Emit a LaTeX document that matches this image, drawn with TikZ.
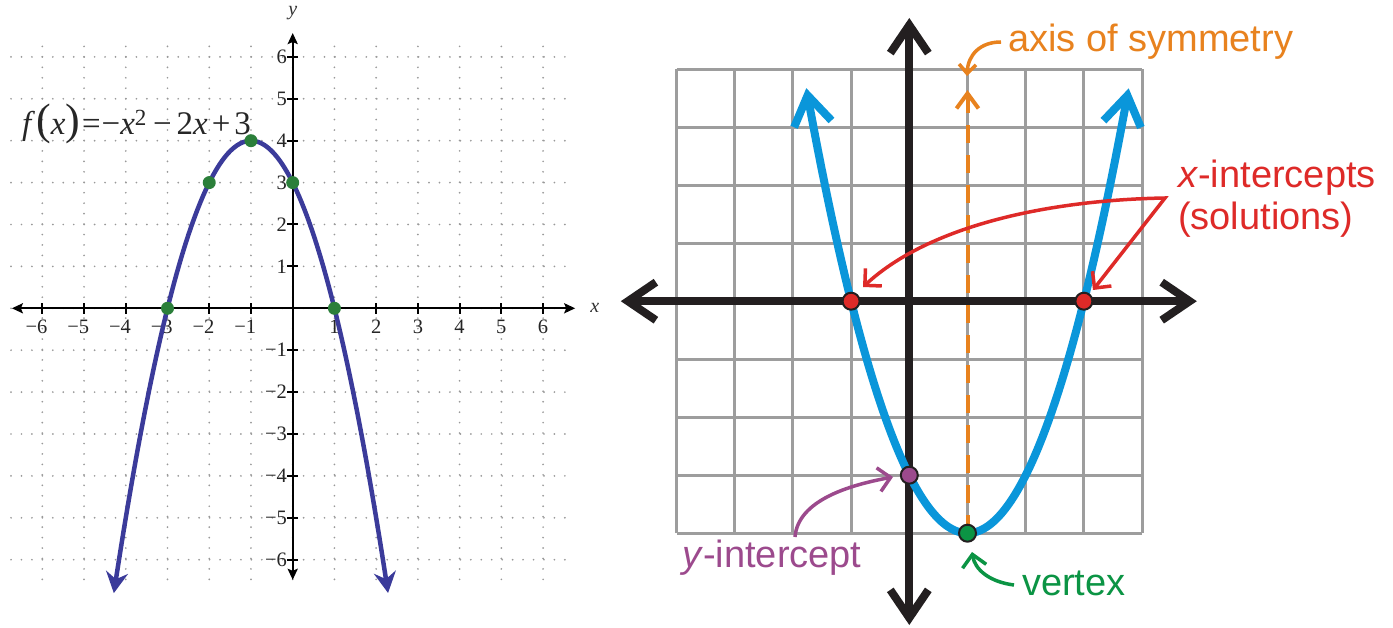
\documentclass[tikz,border=0pt]{standalone}
\usepackage{fontspec}
\setmainfont{Liberation Serif}
\newfontfamily\sansf{Liberation Sans}
\usetikzlibrary{arrows.meta}
\definecolor{lblue}{HTML}{3B3B9A}
\definecolor{lgreen}{HTML}{2B7F3A}
\definecolor{dotgray}{HTML}{999999}
\definecolor{rgray}{HTML}{9D9D9D}
\definecolor{rblack}{HTML}{231F20}
\definecolor{rblue}{HTML}{0A96DA}
\definecolor{rorange}{HTML}{E8821E}
\definecolor{rred}{HTML}{DE2A28}
\definecolor{rpurple}{HTML}{9C4A8D}
\definecolor{rgreen}{HTML}{0B9444}
\tikzset{
 BlackChev/.tip={Straight Barb[length=28pt,width=38pt]},
 BlueChev/.tip={Straight Barb[length=29pt,width=38pt]},
 OrChev/.tip={Straight Barb[length=15pt,width=22pt]},
 ThinChev/.tip={Straight Barb[length=12pt,width=24pt]},
 SmallChev/.tip={Straight Barb[length=9pt,width=17pt]},
 LStealth/.tip={Stealth[length=11pt,width=10pt,inset=2pt]},
 CStealth/.tip={Stealth[length=21pt,width=22pt,inset=7pt]},
 dotgrid/.style={dotgray, line width=1.9pt, line cap=round, dash pattern=on 0pt off 10.45pt},
 laxis/.style={black, line width=2.2pt},
 ltick/.style={black, line width=2pt},
 lcurve/.style={lblue, line width=4.5pt},
 ldot/.style={circle, fill=lgreen, minimum size=13pt, inner sep=0pt},
 lnum/.style={font=\fontsize{20.5}{22}\selectfont, inner sep=0pt, text=black!85},
 lvar/.style={font=\fontsize{20}{22}\selectfont\itshape, inner sep=0pt, text=black!80},
 rgrid/.style={rgray, line width=3pt},
 raxis/.style={rblack, line width=8pt},
 rcurve/.style={rblue, line width=8pt},
 rsym/.style={rorange, line width=4pt, dash pattern=on 18pt off 12pt},
 rdot/.style={circle, draw=rblack, line width=2pt, minimum size=17pt, inner sep=0pt},
 rlabel/.style={font=\sansf\fontsize{38}{42}\selectfont, anchor=base west, inner sep=0pt},
 callout/.style={line width=3.5pt},
}
\begin{document}
\begin{tikzpicture}[x=1pt,y=-1pt]
\useasboundingbox[fill=white] (0,0) rectangle (1393,628);

% ---------------- LEFT GRAPH ----------------
\begin{scope}[shift={(292.7,308.3)}, x=41.73pt, y=41.9pt]
  \foreach \i in {-6,...,6} {
    \draw[dotgrid] (\i,6.25) -- (\i,-6.5);
    \draw[dotgrid] (-6.75,\i) -- (6.75,\i);
  }
  \draw[laxis, LStealth-LStealth] (-6.73,0) -- (6.77,0);
  \draw[laxis, LStealth-LStealth] (0,-6.48) -- (0,6.57);
  \foreach \i in {-6,...,-1,1,2,...,6} {
    \draw[ltick] (\i,-0.13) -- (\i,0.13);
    \draw[ltick] (-0.13,\i) -- (0.13,\i);
    \node[lnum] at (\i,-0.45) {\llap{\ifnum\i<0 −\fi}\ifnum\i<0 \the\numexpr-\i\relax\else\i\fi};
    \node[lnum] at (-0.26,\i) {\llap{\ifnum\i<0 −\fi}\ifnum\i<0 \the\numexpr-\i\relax\else\i\fi};
  }
  \node[lvar] (xlab) at (7.24,0) {x};
  \node[lvar] (ylab) at (0,7.04) {y};
  \draw[lcurve, CStealth-CStealth] plot[domain=-4.286:2.286, samples=90, smooth] (\x,{-\x*\x-2*\x+3});
  \node[ldot] (p1) at (-3,0) {};
  \node[ldot] (p2) at (-2,3) {};
  \node[ldot] (p3) at (-1,4) {};
  \node[ldot] (p4) at (0,3) {};
  \node[ldot] (p5) at (1,0) {};
\end{scope}
\node[anchor=base west, inner sep=0pt, font=\fontsize{33}{36}\selectfont, text=black!85] (fx) at (22,135)
  {\textit{f}\kern1pt{\fontsize{44}{44}\selectfont(}\textit{x}{\fontsize{44}{44}\selectfont)}\kern2pt=\kern1pt−\textit{x}\textsuperscript{2}\kern6pt−\kern5pt2\textit{x}\kern4pt+\kern4pt3};

% ---------------- RIGHT GRAPH ----------------
\begin{scope}[shift={(909.3,301.2)}, x=58.2pt, y=58pt]
  \foreach \k in {-4,...,4} {
    \draw[rgrid] (\k,-4) -- (\k,4);
    \draw[rgrid] (-4,\k) -- (4,\k);
  }
  \draw[raxis, BlackChev-BlackChev] (-4.957,0) -- (4.94,0);
  \draw[raxis, BlackChev-BlackChev] (0,-5.583) -- (0,4.883);
  \coordinate (vx) at (1,-4);
  \coordinate (symtop) at (1,3.64);
  \draw[rsym, -OrChev] (vx) -- (symtop);
  \draw[rcurve, BlueChev-BlueChev] plot[domain=-1.77:3.77, samples=90, smooth] (\x,{(\x-1)*(\x-1)-4});
  \node[rdot, fill=rred] (xi1) at (-1,0) {};
  \node[rdot, fill=rred] (xi2) at (3,0) {};
  \node[rdot, fill=rpurple] (yi) at (0,-3) {};
  \node[rdot, fill=rgreen] (vt) at (1,-4) {};
\end{scope}

% labels
\node[rlabel, text=rorange] (axlab) at (1008,52) {axis of symmetry};
\node[rlabel, text=rred] (xlab1) at (1178,188) {\textit{x}-intercepts};
\node[rlabel, text=rred] (xlab2) at (1178,230) {(solutions)};
\node[rlabel, text=rpurple] (ylabr) at (682,567) {\textit{y}-intercept};
\node[rlabel, text=rgreen] (vlab) at (1022,595) {vertex};

% callout arrows
\coordinate (al) at (1001,42);
\coordinate (aa) at (967,76);
\draw[rorange, callout, -SmallChev] (al) .. controls (980,42) and (968,55) .. (aa);

\coordinate (rs) at (1165,198);
\coordinate (xa1) at (863,287);
\coordinate (xa2) at (1093,290);
\draw[rred, callout, ThinChev-ThinChev] (xa1) .. controls (930,225) and (1050,200) .. (rs) -- (xa2);

\coordinate (yl) at (795,537);
\coordinate (ya) at (893,477);
\draw[rpurple, callout, -ThinChev] (yl) .. controls (798,500) and (850,485) .. (ya);

\coordinate (vl) at (1014,585);
\coordinate (va) at (972,552);
\draw[rgreen, callout, -ThinChev] (vl) .. controls (990,582) and (975,570) .. (va);
\end{tikzpicture}
\end{document}
